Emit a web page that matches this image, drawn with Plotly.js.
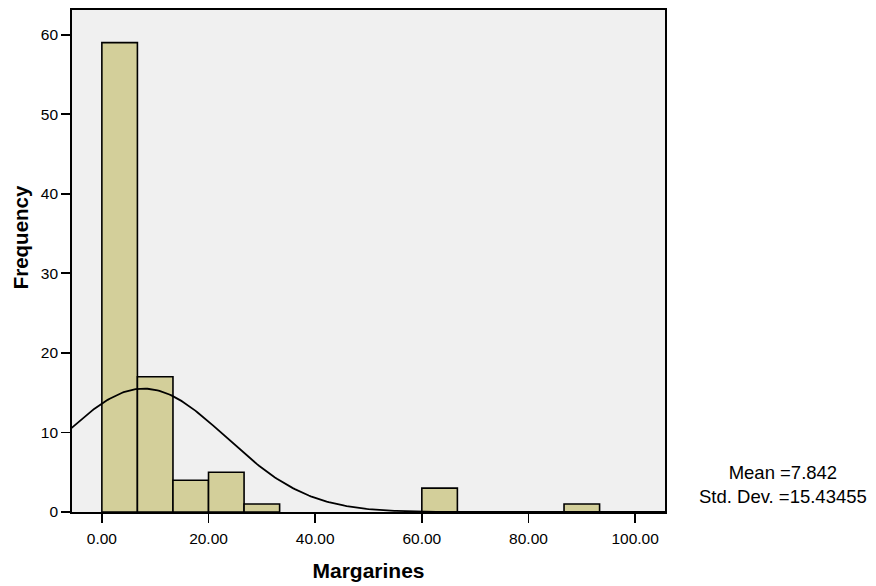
<!DOCTYPE html>
<html>
<head>
<meta charset="utf-8">
<script src="https://cdn.plot.ly/plotly-3.0.1.min.js"></script>
<style>html,body{margin:0;padding:0;background:#fff;}#chart{width:876px;height:586px;}</style>
</head>
<body>
<div id="chart"></div>
<script>
// Histogram of Margarines (SPSS style), bin width 6.667 starting at 0
const binWidth = 20 / 3;
const binCounts = [59, 17, 4, 5, 1, 0, 0, 0, 0, 3, 0, 0, 0, 1];
const meanValue = 7.842;
const stdDevValue = 15.43455;
const xTickVals = [0, 20, 40, 60, 80, 100];
const yTickVals = [0, 10, 20, 30, 40, 50, 60];

const nTotal = binCounts.reduce((a, b) => a + b, 0);
const barX = [], barY = [];
binCounts.forEach((c, i) => {
  if (c > 0) { barX.push((i + 0.5) * binWidth); barY.push(c); }
});

// Fitted normal curve from the stated mean / std. dev.
const curveX = [], curveY = [];
for (let k = 0; k <= 300; k++) {
  const x = -6 + k * (112 / 300);
  const z = (x - meanValue) / stdDevValue;
  curveX.push(x);
  curveY.push(nTotal * binWidth * Math.exp(-0.5 * z * z) / (stdDevValue * Math.sqrt(2 * Math.PI)));
}

const traces = [
  {
    type: 'bar', x: barX, y: barY, width: binWidth,
    marker: { color: '#d3cf9a', line: { color: '#000', width: 1.6 } },
    hoverinfo: 'x+y'
  },
  {
    type: 'scatter', mode: 'lines', x: curveX, y: curveY,
    line: { color: '#000', width: 1.8 }, hoverinfo: 'skip'
  }
];

const font = 'Arial, "Liberation Sans", Helvetica, sans-serif';
const layout = {
  width: 876, height: 586,
  margin: { l: 72, r: 211, t: 10, b: 74 },
  paper_bgcolor: '#ffffff', plot_bgcolor: '#f0f0f0',
  showlegend: false, bargap: 0,
  font: { family: font, color: '#000' },
  xaxis: {
    range: [-5.6, 105.6], tickvals: xTickVals, tickformat: '.2f',
    ticks: 'outside', ticklen: 9, tickwidth: 1.8, tickcolor: '#000',
    ticklabelstandoff: 3,
    showline: true, linecolor: '#000', linewidth: 1.8, mirror: true,
    showgrid: false, zeroline: false,
    tickfont: { size: 15.5, family: font, color: '#000' },
    title: { text: '<b>Margarines</b>', font: { size: 21, family: font, color: '#000' }, standoff: 17 }
  },
  yaxis: {
    range: [0, 63.1], tickvals: yTickVals,
    ticks: 'outside', ticklen: 9, tickwidth: 1.8, tickcolor: '#000',
    showline: true, linecolor: '#000', linewidth: 1.8, mirror: true,
    showgrid: false, zeroline: false,
    tickfont: { size: 15.5, family: font, color: '#000' }
  },
  annotations: [
    {
      xref: 'paper', yref: 'paper', x: -0.087, y: 0.548,
      text: '<b>Frequency</b>', textangle: -90, showarrow: false,
      xanchor: 'center', yanchor: 'middle',
      font: { size: 20.5, family: font, color: '#000' }
    },
    {
      xref: 'paper', yref: 'paper', x: 1.199, y: 0.055,
      text: 'Mean =7.842<br>Std. Dev. =15.43455', showarrow: false,
      xanchor: 'center', yanchor: 'middle', align: 'center',
      font: { size: 18.5, family: font, color: '#000' }
    }
  ]
};

Plotly.newPlot('chart', traces, layout, { displayModeBar: false, staticPlot: true });
</script>
</body>
</html>
